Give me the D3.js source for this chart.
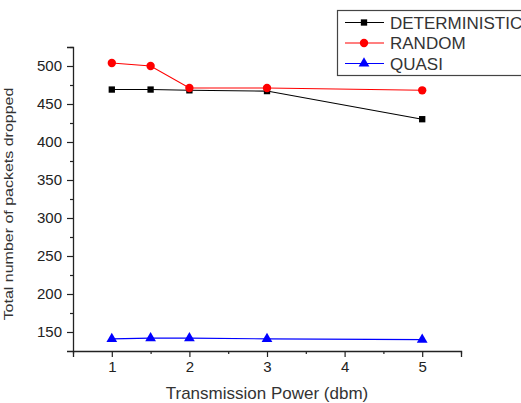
<!DOCTYPE html>
<html>
<head>
<meta charset="utf-8">
<script src="https://cdn.jsdelivr.net/npm/d3@7"></script>
<style>
  body { margin: 0; background: #fff; }
  svg { display: block; font-family: "Liberation Sans", Arial, sans-serif; }
</style>
</head>
<body>
<div id="chart"></div>
<script>
// --- data ---
const powers = [1, 1.5, 2, 3, 5];
const deterministic = [469, 469, 468, 467, 430];
const random = [504, 500, 471, 471, 468];
const quasi = [141, 142, 142, 141, 140];
const seriesNames = ['DETERMINISTIC', 'RANDOM', 'QUASI'];
const xTicks = [1, 2, 3, 4, 5];
const yTicks = [150, 200, 250, 300, 350, 400, 450, 500];

const W = 521, H = 403;
const ink = '#222';

const svg = d3.select('#chart').append('svg')
    .attr('width', W)
    .attr('height', H);

// plot area
const x = d3.scaleLinear().domain([0.5, 5.5]).range([73, 461]);
const y = d3.scaleLinear().domain([125, 525]).range([351, 47]);

// --- axes ---
const xAxis = d3.axisBottom(x).tickValues(xTicks).tickSize(6).tickPadding(4)
    .tickFormat(d3.format('d'));
const xMinor = d3.axisBottom(x).tickValues(d3.range(0.5, 5.51, 0.5).filter(v => v % 1 !== 0))
    .tickSize(3).tickFormat('');
const yAxis = d3.axisLeft(y).tickValues(yTicks).tickSize(6).tickPadding(5);
const yMinor = d3.axisLeft(y).tickValues(d3.range(175, 526, 50)).tickSize(3).tickFormat('');

function styleAxis(g) {
    g.select('.domain').attr('stroke', ink).attr('stroke-width', 1.3);
    g.selectAll('.tick line').attr('stroke', ink).attr('stroke-width', 1.2);
    g.selectAll('.tick text').attr('fill', ink).attr('font-size', 15)
        .attr('font-family', '"Liberation Sans", Arial, sans-serif');
}

svg.append('g').attr('transform', `translate(0,${y.range()[0]})`).call(xMinor).call(styleAxis)
    .select('.domain').remove();
svg.append('g').attr('transform', `translate(0,${y.range()[0]})`).call(xAxis).call(styleAxis);
svg.append('g').attr('transform', `translate(${x.range()[0]},0)`).call(yMinor).call(styleAxis)
    .select('.domain').remove();
svg.append('g').attr('transform', `translate(${x.range()[0]},0)`).call(yAxis).call(styleAxis);

// axis titles
svg.append('text')
    .attr('x', 267).attr('y', 399)
    .attr('text-anchor', 'middle')
    .attr('font-size', 17)
    .attr('fill', '#333')
    .text('Transmission Power (dbm)');

svg.append('text')
    .attr('transform', 'translate(13,204) scale(0.75,1) rotate(-90)')
    .attr('text-anchor', 'middle')
    .attr('font-size', 16)
    .attr('fill', '#333')
    .text('Total  number of packets dropped');

// --- series ---
const series = [
    { name: seriesNames[0], values: deterministic, color: '#000', symbol: d3.symbolSquare, size: 40 },
    { name: seriesNames[1], values: random, color: '#f00', symbol: d3.symbolCircle, size: 55 },
    { name: seriesNames[2], values: quasi, color: '#00f', symbol: d3.symbolTriangle, size: 50 }
];

const line = d3.line().x(d => x(d[0])).y(d => y(d[1]));

series.forEach(s => {
    const pts = powers.map((p, i) => [p, s.values[i]]);
    const g = svg.append('g');
    g.append('path')
        .datum(pts)
        .attr('d', line)
        .attr('fill', 'none')
        .attr('stroke', s.color)
        .attr('stroke-width', 1.1);
    g.selectAll('path.m')
        .data(pts)
        .join('path')
        .attr('class', 'm')
        .attr('transform', d => `translate(${x(d[0])},${y(d[1])})`)
        .attr('d', d3.symbol().type(s.symbol).size(s.size))
        .attr('fill', s.color);
});

// --- legend ---
const leg = svg.append('g');
leg.append('rect')
    .attr('x', 337.5).attr('y', 10.5)
    .attr('width', 200).attr('height', 65)
    .attr('fill', '#fff')
    .attr('stroke', '#444')
    .attr('stroke-width', 1.2);

series.forEach((s, i) => {
    const ly = 22.5 + i * 20.5;
    leg.append('line')
        .attr('x1', 345).attr('x2', 384)
        .attr('y1', ly).attr('y2', ly)
        .attr('stroke', s.color)
        .attr('stroke-width', 1.1);
    leg.append('path')
        .attr('transform', `translate(364,${ly})`)
        .attr('d', d3.symbol().type(s.symbol).size(s.size))
        .attr('fill', s.color);
    leg.append('text')
        .attr('x', 390).attr('y', ly + 6)
        .attr('font-size', 17)
        .attr('fill', '#333')
        .text(s.name);
});
</script>
</body>
</html>
